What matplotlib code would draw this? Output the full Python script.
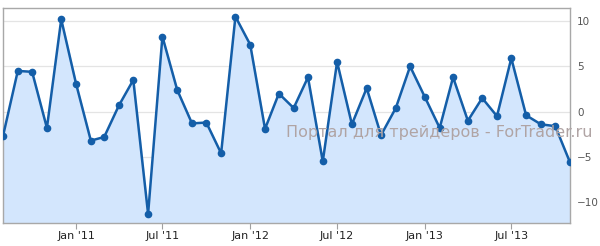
import matplotlib
matplotlib.use("Agg")
import matplotlib.pyplot as plt
import matplotlib.dates as mdates
import numpy as np
import datetime as dt

months = [dt.date(2010 + (7 + i) // 12, (7 + i) % 12 + 1, 1) for i in range(40)]
values = [-2.7, 4.5, 4.4, -1.8, 10.2, 3.1, -3.2, -2.8, 0.7, 3.5,
          -11.3, 8.3, 2.4, -1.3, -1.2, -4.6, 10.5, 7.4, -1.9, 2.0,
          0.4, 3.8, -5.5, 5.5, -1.4, 2.6, -2.6, 0.4, 5.0, 1.6,
          -1.8, 3.8, -1.0, 1.5, -0.5, 5.9, -0.4, -1.4, -1.6, -5.6]
yticks = [-10, -5, 0, 5, 10]
tick_dates = [dt.date(2011, 1, 1), dt.date(2011, 7, 1), dt.date(2012, 1, 1),
              dt.date(2012, 7, 1), dt.date(2013, 1, 1), dt.date(2013, 7, 1)]
tick_labels = ["Jan '11", "Jul '11", "Jan '12", "Jul '12", "Jan '13", "Jul '13"]
watermark = "Портал для трейдеров - ForTrader.ru"

fig = plt.figure(figsize=(6.0, 2.46), dpi=100)
ax = fig.add_axes([3/600, 23/246, 567/600, 215/246])
ymin, ymax = -12.3, 11.45
x = mdates.date2num(months)
ax.fill_between(x, values, ymin, color="#d3e6fd", zorder=1)
ax.plot(x, values, color="#145ea8", lw=1.8, marker="o", ms=4.5, zorder=3)
ax.set_xlim(x[0], x[-1])
ax.set_ylim(ymin, ymax)
ax.set_yticks(yticks)
ax.set_yticklabels([str(v).replace("-", "\u2212") for v in yticks])
ax.yaxis.tick_right()
ax.tick_params(axis="y", length=0, pad=5, labelsize=7.5, labelcolor="#555555")
ax.set_xticks(mdates.date2num(tick_dates))
ax.set_xticklabels(tick_labels)
ax.tick_params(axis="x", length=4, width=0.8, color="#a0a0a0", labelsize=8,
               labelcolor="#222222", pad=1.5, direction="out")
ax.grid(axis="y", color="#e4e4e4", lw=0.9, zorder=0)
ax.set_axisbelow(True)
for s in ax.spines.values():
    s.set_color("#a8a8a8")
    s.set_linewidth(1.0)
fig.text(593/600, (246 - 133)/246, watermark, ha="right", va="center",
         fontsize=11.5, color="#b0a4a4", zorder=2)
fig.savefig("out.png", dpi=100)
